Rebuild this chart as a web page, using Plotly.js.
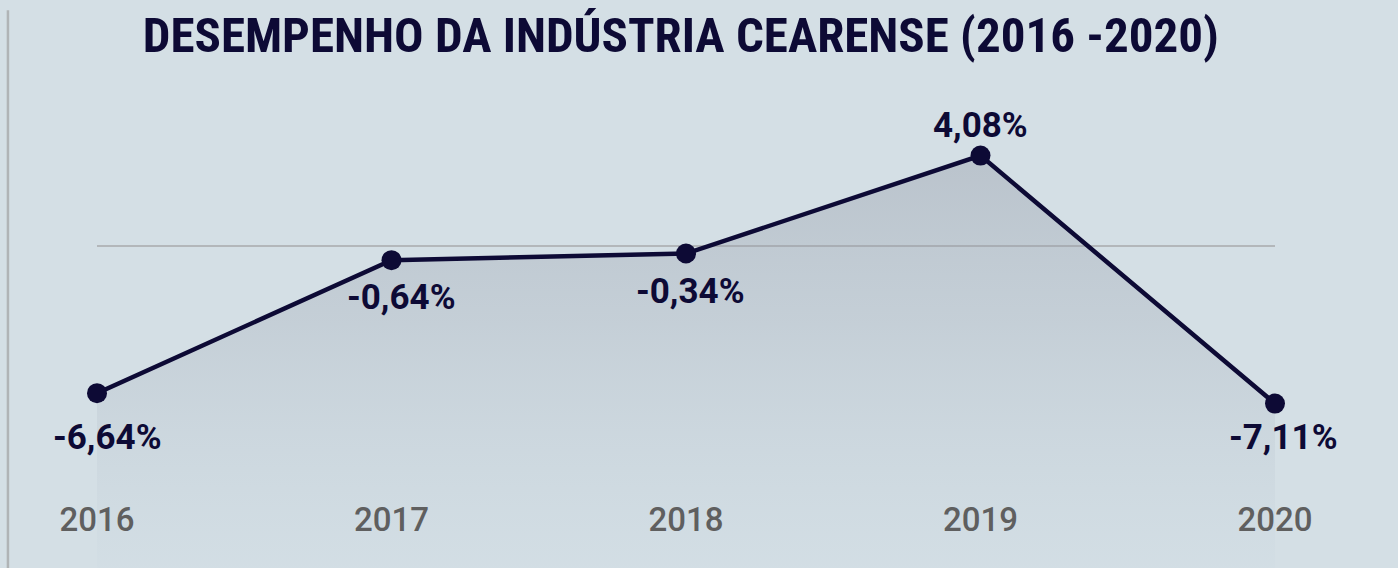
<!DOCTYPE html>
<html>
<head>
<meta charset="utf-8">
<script src="https://cdn.plot.ly/plotly-3.0.1.min.js"></script>
<style>
  html, body { margin: 0; padding: 0; background: #d4dfe5; }
  #chart { width: 1398px; height: 568px; }
  .gtitle { font-stretch: 75% !important; }
  .annotation-text { font-stretch: 90% !important; }
</style>
</head>
<body>
<div id="chart"></div>
<script>
// ---- data ----
const years = [2016, 2017, 2018, 2019, 2020];
const growth = [-6.64, -0.64, -0.34, 4.08, -7.11];
const tickLabels = ['2016', '2017', '2018', '2019', '2020'];
const chartTitle = 'DESEMPENHO DA INDÚSTRIA CEARENSE (2016 -2020)';

// ---- layout tuning (not data) ----
const Y_RANGE = [-14.53, 11.10];
const labelShiftX = [10, 10, 4, 0, 8];
const labelShiftY = [-44, -37, -38, 30, -34];

const fmt = v => v.toFixed(2).replace('.', ',') + '%';

const baseline = {
  x: years,
  y: years.map(() => Y_RANGE[0]),
  mode: 'lines',
  line: { width: 0 },
  hoverinfo: 'skip',
  showlegend: false
};

const main = {
  x: years,
  y: growth,
  mode: 'lines+markers',
  fill: 'tonexty',
  fillgradient: {
    type: 'vertical',
    start: Y_RANGE[0],
    stop: Math.max(...growth),
    colorscale: [
      [0, 'rgba(200,214,224,0.15)'],
      [0.6, 'rgba(150,158,172,0.25)'],
      [1, 'rgba(140,146,160,0.36)']
    ]
  },
  line: { color: '#0d0a35', width: 4.5 },
  marker: { color: '#0d0a35', size: 20 },
  cliponaxis: false,
  showlegend: false
};

const annotations = years.map((yr, i) => ({
  x: yr,
  y: growth[i],
  text: fmt(growth[i]),
  showarrow: false,
  xshift: labelShiftX[i],
  yshift: labelShiftY[i],
  font: { family: 'Roboto, sans-serif', size: 35, weight: 700, color: '#0d0a35' }
}));

const layout = {
  width: 1398,
  height: 568,
  paper_bgcolor: '#d4dfe5',
  plot_bgcolor: '#d4dfe5',
  margin: { l: 97, r: 123, t: 0, b: 0 },
  title: {
    text: chartTitle,
    x: 0.487, xanchor: 'center',
    y: 0.938, yanchor: 'middle',
    yref: 'container',
    font: { family: 'Roboto, sans-serif', size: 49, weight: 700, color: '#0d0a35' }
  },
  xaxis: {
    range: [2016, 2020],
    tickvals: years,
    ticktext: tickLabels,
    ticklabelposition: 'inside',
    ticklabeloverflow: 'allow',
    ticklabelstandoff: 27,
    ticks: '',
    showgrid: false,
    zeroline: false,
    showline: false,
    tickfont: { family: 'Roboto, sans-serif', size: 33, weight: 500, color: '#5f5f5f' },
    fixedrange: true
  },
  yaxis: {
    range: Y_RANGE,
    showticklabels: false,
    ticks: '',
    showgrid: false,
    zeroline: true,
    zerolinecolor: '#b3b7ba',
    zerolinewidth: 2,
    showline: false,
    fixedrange: true
  },
  shapes: [{
    type: 'line', xref: 'paper', yref: 'paper',
    x0: -0.0756, x1: -0.0756, y0: 0, y1: 0.982,
    line: { color: '#b0b4b6', width: 2.5 }
  }],
  annotations: annotations,
  showlegend: false
};

Plotly.newPlot('chart', [baseline, main], layout, { displayModeBar: false, staticPlot: true });
</script>
</body>
</html>
